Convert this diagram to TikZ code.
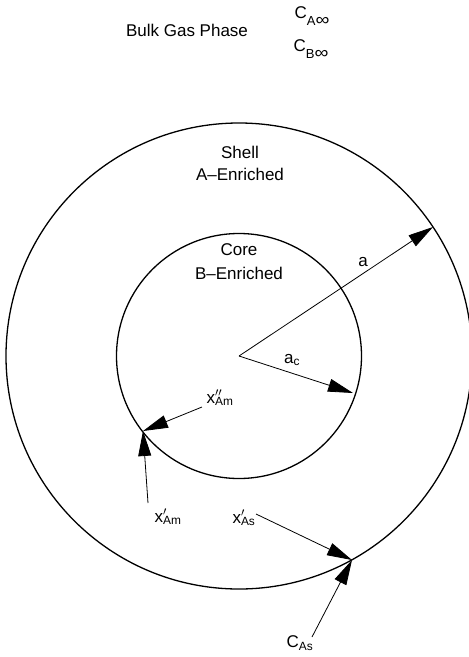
\documentclass[tikz,border=0pt]{standalone}
\usepackage{fontspec}
\setmainfont{Liberation Sans}
\usetikzlibrary{arrows.meta}
\newcommand{\xmark}[2]{x\rlap{$^{#1}$}\textsubscript{#2}}
\newcommand{\cinf}[1]{C\raisebox{-0.4em}{\fontsize{13}{13}\selectfont #1\scalebox{1.5}[1.3]{∞}}}

\begin{document}
\begin{tikzpicture}[x=1pt,y=-1pt,
    every node/.style={font=\fontsize{17}{20}\selectfont},
    arr/.style={-{Triangle[length=25pt,width=13pt]},line width=0.8pt},
    rim/.style={line width=1.3pt}]
  \useasboundingbox (0,0) rectangle (469,657);

  %% Particle: shell and core
  \coordinate (ctr) at (239,356);
  \draw[rim] (ctr) circle[radius=233pt];
  \draw[rim] (ctr) circle[radius=122.5pt];

  %% Gas phase labels
  \node (bulk)  at (187,30) {Bulk Gas Phase};
  \node (cainf) at (312,16) {\cinf{A}};
  \node (cbinf) at (311,49) {\cinf{B}};

  %% Region labels
  \node (shell) at (240,152) {Shell};
  \node (shellA) at (240,174) {A–Enriched};
  \node (core)  at (239,250) {Core};
  \node (coreB) at (239,273) {B–Enriched};

  %% Radii
  \coordinate (pa) at (433,227);
  \coordinate (pc) at (353,393);
  \draw[arr] (ctr) -- (pa);
  \draw[arr] (ctr) -- (pc);
  \node (la)  at (363,262) {a};
  \node (lac) at (292,360) {a\textsubscript{c}};

  %% Interface between core and shell
  \coordinate (pm) at (143,431);
  \coordinate (tm2) at (202,407);
  \coordinate (tm1) at (148,503);
  \node (xm2) at (220,398) {\xmark{\prime\prime}{Am}};
  \node (xm1) at (168,517) {\xmark{\prime}{Am}};
  \draw[arr] (tm2) -- (pm);
  \draw[arr] (tm1) -- (pm);

  %% Outer surface
  \coordinate (ps) at (352,560);
  \coordinate (ts1) at (256,514);
  \coordinate (ts2) at (312,637);
  \node (xs1) at (244,518) {\xmark{\prime}{As}};
  \node (cas) at (300,643) {C\textsubscript{As}};
  \draw[arr] (ts1) -- (ps);
  \draw[arr] (ts2) -- (ps);
\end{tikzpicture}
\end{document}
